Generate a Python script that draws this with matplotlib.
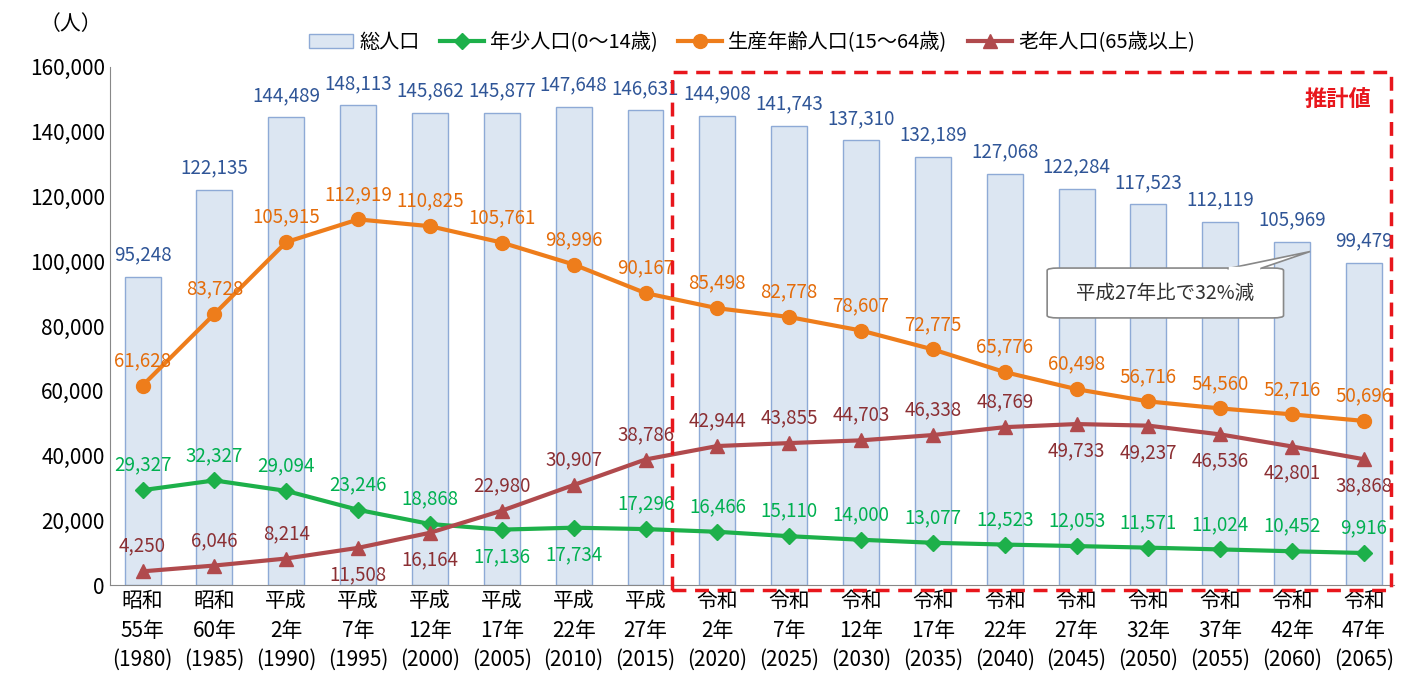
import matplotlib
matplotlib.use("Agg")
import matplotlib.pyplot as plt
from matplotlib.patches import Rectangle, FancyBboxPatch, Polygon

plt.rcParams['font.family'] = ['Noto Sans CJK JP', 'DejaVu Sans']

categories = ["昭和\n55年\n(1980)", "昭和\n60年\n(1985)", "平成\n2年\n(1990)", "平成\n7年\n(1995)",
              "平成\n12年\n(2000)", "平成\n17年\n(2005)", "平成\n22年\n(2010)", "平成\n27年\n(2015)",
              "令和\n2年\n(2020)", "令和\n7年\n(2025)", "令和\n12年\n(2030)", "令和\n17年\n(2035)",
              "令和\n22年\n(2040)", "令和\n27年\n(2045)", "令和\n32年\n(2050)", "令和\n37年\n(2055)",
              "令和\n42年\n(2060)", "令和\n47年\n(2065)"]
total = [95248, 122135, 144489, 148113, 145862, 145877, 147648, 146631, 144908, 141743,
         137310, 132189, 127068, 122284, 117523, 112119, 105969, 99479]
young = [29327, 32327, 29094, 23246, 18868, 17136, 17734, 17296, 16466, 15110,
         14000, 13077, 12523, 12053, 11571, 11024, 10452, 9916]
working = [61628, 83728, 105915, 112919, 110825, 105761, 98996, 90167, 85498, 82778,
           78607, 72775, 65776, 60498, 56716, 54560, 52716, 50696]
elderly = [4250, 6046, 8214, 11508, 16164, 22980, 30907, 38786, 42944, 43855,
           44703, 46338, 48769, 49733, 49237, 46536, 42801, 38868]
young_below = [5, 6]
elderly_below = [3, 4, 13, 14, 15, 16, 17]

fig = plt.figure(figsize=(14.04, 6.9), dpi=100)
ax = fig.add_axes([0.078, 0.152, 0.915, 0.751])
x = list(range(len(categories)))

c_bar_f, c_bar_e = "#dce6f2", "#8eaad6"
c_g, c_o, c_r = "#1db04a", "#ee7d1b", "#b04a4d"

b = ax.bar(x, total, width=0.5, color=c_bar_f, edgecolor=c_bar_e, linewidth=1, zorder=1)
l1, = ax.plot(x, young, color=c_g, marker="D", ms=8, lw=3, zorder=3)
l2, = ax.plot(x, working, color=c_o, marker="o", ms=10, lw=3, zorder=3)
l3, = ax.plot(x, elderly, color=c_r, marker="^", ms=10, lw=3, zorder=3)

fs = 13.5
for i in x:
    ax.text(i, total[i] + 3500, f"{total[i]:,}", ha="center", va="bottom", color="#2f5597", fontsize=fs)
    ax.text(i, working[i] + 4500, f"{working[i]:,}", ha="center", va="bottom", color="#e46c0a", fontsize=fs)
    if i in young_below:
        ax.text(i, young[i] - 5000, f"{young[i]:,}", ha="center", va="top", color="#00b050", fontsize=fs)
    else:
        ax.text(i, young[i] + 4500, f"{young[i]:,}", ha="center", va="bottom", color="#00b050", fontsize=fs)
    if i in elderly_below:
        ax.text(i, elderly[i] - 5000, f"{elderly[i]:,}", ha="center", va="top", color="#8b2f33", fontsize=fs)
    else:
        ax.text(i, elderly[i] + 4500, f"{elderly[i]:,}", ha="center", va="bottom", color="#8b2f33", fontsize=fs)

ax.set_xlim(-0.46, 17.42)
ax.set_ylim(0, 160000)
ax.set_yticks(range(0, 160001, 20000))
ax.set_yticklabels([f"{v:,}" for v in range(0, 160001, 20000)], fontsize=15)
ax.set_xticks(x)
ax.set_xticklabels(categories, fontsize=15, linespacing=1.45)
ax.tick_params(length=0)
for s in ["top", "right"]:
    ax.spines[s].set_visible(False)
ax.spines["left"].set_color("#888888")
ax.spines["bottom"].set_color("#888888")

ax.add_patch(Rectangle((7.37, -1500), 10.0, 160000, fill=False, ls=(0, (4, 2.5)),
                       edgecolor="#e8161c", lw=2.5, clip_on=False, zorder=5))
ax.text(17.1, 150000, "推計値", color="#e8161c", fontsize=16, fontweight="bold", ha="right", va="center")

# callout
box = FancyBboxPatch((12.59, 82500), 3.29, 15400, boxstyle="round,pad=0,rounding_size=0.15",
                     facecolor="white", edgecolor="#888888", lw=1.2, zorder=6, mutation_aspect=5000)
ax.add_patch(box)
ax.add_patch(Polygon([(15.1, 97700), (15.55, 97700), (16.25, 103000)], closed=True,
                     facecolor="white", edgecolor="#888888", lw=1.2, zorder=6))
ax.plot([15.13, 15.52], [97900, 97900], color="white", lw=2.5, zorder=7)
ax.text(14.23, 90200, "平成27年比で32%減", fontsize=14, ha="center", va="center", zorder=8, color="#333333")

fig.text(0.028, 0.965, "（人）", fontsize=15, va="center")
ax.legend([b, l1, l2, l3], ["総人口", "年少人口(0～14歳)", "生産年齢人口(15～64歳)", "老年人口(65歳以上)"],
          loc="lower center", bbox_to_anchor=(0.5, 1.0), ncol=4, frameon=False, fontsize=14.5,
          handlelength=2.2, columnspacing=1.0, handletextpad=0.3, borderaxespad=0.3)

fig.savefig("out.png", dpi=100)
